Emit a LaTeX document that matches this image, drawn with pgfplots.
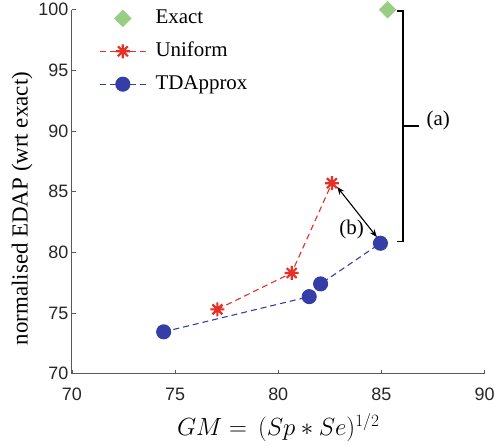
\documentclass[border=0pt]{standalone}
\usepackage{fontspec}
\setmainfont{Liberation Serif}
\setsansfont{Liberation Sans}
\usepackage{pgfplots}
\pgfplotsset{compat=1.18}
\usetikzlibrary{arrows.meta}
\definecolor{cgreen}{RGB}{152,206,132}
\definecolor{cred}{RGB}{228,48,38}
\definecolor{cblue}{RGB}{52,62,166}
\pgfdeclareplotmark{mstar}{%
  \pgfpathmoveto{\pgfqpoint{0pt}{\pgfplotmarksize}}\pgfpathlineto{\pgfqpoint{0pt}{-\pgfplotmarksize}}%
  \pgfpathmoveto{\pgfqpoint{\pgfplotmarksize}{0pt}}\pgfpathlineto{\pgfqpoint{-\pgfplotmarksize}{0pt}}%
  \pgfpathmoveto{\pgfqpoint{.7071\pgfplotmarksize}{.7071\pgfplotmarksize}}\pgfpathlineto{\pgfqpoint{-.7071\pgfplotmarksize}{-.7071\pgfplotmarksize}}%
  \pgfpathmoveto{\pgfqpoint{-.7071\pgfplotmarksize}{.7071\pgfplotmarksize}}\pgfpathlineto{\pgfqpoint{.7071\pgfplotmarksize}{-.7071\pgfplotmarksize}}%
  \pgfusepathqstroke}
\pgfplotsset{
  markonly legend/.style={legend image code/.code={
    \path[draw=none] (0cm,0cm) -- (1.6cm+8pt,0cm);
    \draw[##1] plot coordinates {(0.8cm,0cm)};}},
  lineandmark legend/.style={legend image code/.code={
    \path[draw=none] (0cm,0cm) -- (1.6cm+8pt,0cm);
    \draw[##1] (0cm,0cm) -- (1.6cm,0cm);
    \draw[##1, solid, only marks] plot coordinates {(0.8cm,0cm)};}},
}
\begin{document}
\begin{tikzpicture}
\begin{axis}[
  scale only axis,
  width=414pt, height=365pt,
  xmin=70, xmax=90, ymin=70, ymax=100,
  xtick={70,75,...,90}, ytick={70,75,...,100},
  axis lines*=left,
  axis line style={draw=black!65, line width=0.8pt},
  tick style={draw=black!65, line width=0.6pt},
  tick align=inside, major tick length=4pt,
  /pgf/number format/assume math mode=true,
  ticklabel style={font=\sffamily\fontsize{18}{20}\selectfont, text=black!85},
  xticklabel style={yshift=-11pt},
  xlabel={$GM = \,(Sp \ast Se)^{1/2}$},
  ylabel={normalised EDAP (wrt exact)},
  xlabel style={font=\fontsize{23}{25}\selectfont, yshift=-6pt},
  ylabel style={font=\fontsize{23}{25}\selectfont, yshift=-1pt, xshift=-17pt},
  clip=false,
  legend cell align=left,
  legend style={draw=none, fill=none, at={(0.062,1.015)}, anchor=north west,
    font=\fontsize{21}{24}\selectfont, row sep=9pt, inner sep=2pt,
    nodes={inner sep=2pt, text height=15pt, text depth=5pt}},
  lineandmark legend,
]
\addplot[only marks, mark=square*, mark size=6pt, color=cgreen, mark options={rotate=45, fill=cgreen, draw=cgreen}, markonly legend]
  coordinates {(85.3,100)};
\addlegendentry{Exact}
\addplot[color=cred, line width=1.1pt, dash pattern=on 6pt off 4pt, mark=mstar, mark size=7pt, mark options={solid, line width=2.2pt}]
  coordinates {(77.05,75.3) (80.65,78.3) (82.6,85.7)};
\addlegendentry{Uniform}
\addplot[color=cblue, line width=1.1pt, dash pattern=on 6pt off 4pt, mark=*, mark size=7pt, mark options={solid, fill=cblue}]
  coordinates {(74.45,73.45) (81.5,76.35) (82.05,77.4) (84.95,80.75)};
\addlegendentry{TDApprox}
% bracket (a)
\draw[black, line width=1.4pt] (axis cs:85.75,99.9) -- (axis cs:86.05,99.9) -- (axis cs:86.05,80.9) -- (axis cs:85.75,80.9);
\draw[black, line width=1.4pt] (axis cs:86.05,90.4) -- (axis cs:86.8,90.4);
\node[font=\fontsize{21}{24}\selectfont] at (axis cs:87.75,90.9) {(a)};
% arrow (b)
\draw[{Stealth[length=8pt]}-{Stealth[length=8pt]}, line width=1.1pt] (axis cs:82.85,85.4) -- (axis cs:84.78,81.25);
\node[font=\fontsize{21}{24}\selectfont] at (axis cs:83.55,81.85) {(b)};
% picture margins as in the reference
\path (rel axis cs:0,1) ++(-72pt,9pt);
\path (rel axis cs:1,0) ++(12pt,-71pt);
\end{axis}
\end{tikzpicture}
\end{document}
